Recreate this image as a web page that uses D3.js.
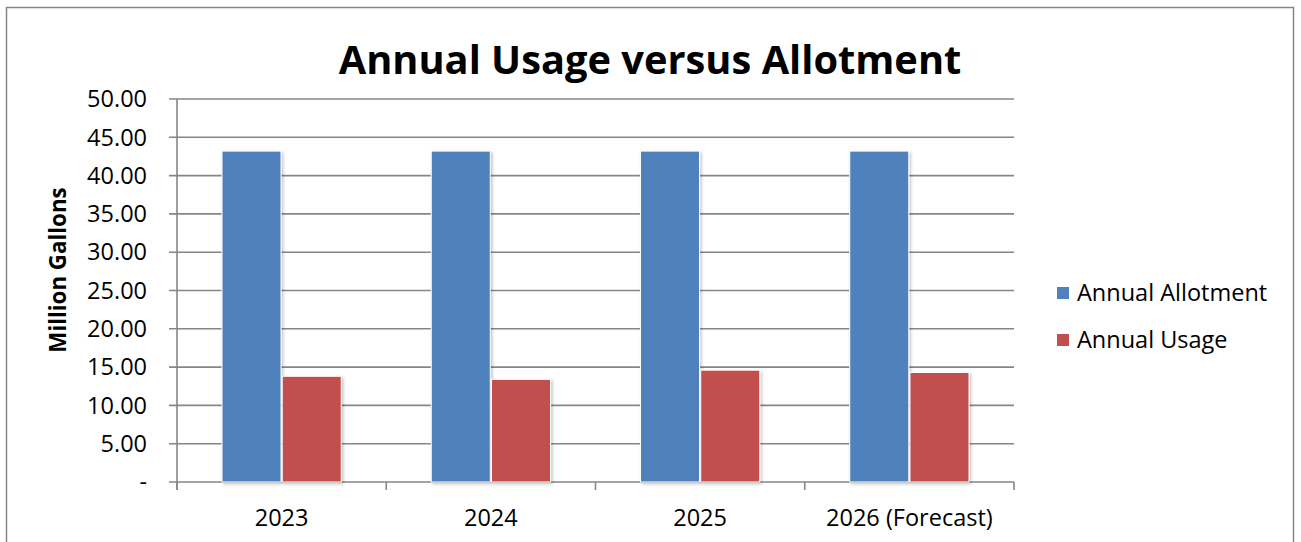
<!DOCTYPE html>
<html><head><meta charset="utf-8">
<script src="https://cdn.jsdelivr.net/npm/d3@7/dist/d3.min.js"></script>
<style>body{margin:0;background:#fff}svg{display:block}text{font-family:"Open Sans",Lato,sans-serif}</style>
</head><body><svg id="c" width="1301" height="542"></svg>
<script>
const categories = ["2023", "2024", "2025", "2026 (Forecast)"];
const seriesNames = ["Annual Allotment", "Annual Usage"];
const allotment = [43.2, 43.2, 43.2, 43.2];
const usage = [13.8, 13.4, 14.6, 14.3];
const yTicks = [0, 5, 10, 15, 20, 25, 30, 35, 40, 45, 50];
const colors = ["#4F81BD", "#C0504D"];

const svg = d3.select("#c");
const grid = "#868686";
svg.append("rect").attr("x",6.5).attr("y",7.5).attr("width",1287).attr("height",560)
  .attr("fill","#fff").attr("stroke",grid).attr("stroke-width",1.5);

const L=177, R=1014, T=99, B=482;
const y = d3.scaleLinear().domain([0,50]).range([B,T]);
const x0 = d3.scaleBand().domain(categories).range([L,R]).paddingInner(0.43).paddingOuter(0.215);
const x1 = d3.scaleBand().domain(seriesNames).range([0,x0.bandwidth()]).paddingInner(0.02);

const defs = svg.append("defs");
const f = defs.append("filter").attr("id","sh").attr("x","-10%").attr("y","-10%").attr("width","130%").attr("height","130%");
f.append("feDropShadow").attr("dx",1.5).attr("dy",1.5).attr("stdDeviation",1.5).attr("flood-color","#000").attr("flood-opacity",0.25);

// gridlines
svg.append("g").selectAll("line").data(yTicks).join("line")
  .attr("x1",169).attr("x2",R).attr("y1",d=>y(d)).attr("y2",d=>y(d))
  .attr("stroke",grid).attr("stroke-width",1.6);
// y axis line
svg.append("line").attr("x1",L).attr("x2",L).attr("y1",T).attr("y2",B+8).attr("stroke",grid).attr("stroke-width",1.6);
// x ticks
const bounds = categories.map((c,i)=>L + i*(R-L)/categories.length).concat([R]);
svg.append("g").selectAll("line").data(bounds).join("line")
  .attr("x1",d=>d).attr("x2",d=>d).attr("y1",B).attr("y2",B+8).attr("stroke",grid).attr("stroke-width",1.6);

// y labels
svg.append("g").selectAll("text").data(yTicks).join("text")
  .attr("x",147).attr("y",d=>y(d)).attr("dy","0.35em").attr("text-anchor","end")
  .attr("font-size",23.5).attr("fill","#000")
  .text(d=>d===0?"-":d.toFixed(2));

// bars
const data = categories.map((c,i)=>({c, vals:[allotment[i], usage[i]]}));
const g = svg.append("g").selectAll("g").data(data).join("g").attr("transform",d=>`translate(${x0(d.c)},0)`);
g.selectAll("rect").data(d=>d.vals.map((v,j)=>({v,s:seriesNames[j],j}))).join("rect")
  .attr("x",d=>x1(d.s)).attr("width",x1.bandwidth())
  .attr("y",d=>y(d.v)).attr("height",d=>B-y(d.v))
  .attr("fill",d=>colors[d.j]).attr("stroke","#fff").attr("stroke-width",1).attr("filter","url(#sh)");

// x labels
svg.append("g").selectAll("text").data(categories).join("text")
  .attr("x",d=>x0(d)+x0.bandwidth()/2).attr("y",526).attr("text-anchor","middle")
  .attr("font-size",23.5).attr("fill","#000").text(d=>d);

// title
svg.append("text").attr("x",650).attr("y",74).attr("text-anchor","middle")
  .attr("font-size",39.8).attr("font-weight","bold").attr("fill","#000").text("Annual Usage versus Allotment");

// y title
svg.append("text").attr("transform","translate(66,270) rotate(-90)").attr("text-anchor","middle")
  .attr("font-size",22.3).attr("font-weight","bold").attr("fill","#000").text("Million Gallons");

// legend
const lg = svg.append("g").selectAll("g").data(seriesNames).join("g")
  .attr("transform",(d,i)=>`translate(1057,${293+i*47})`);
lg.append("rect").attr("x",0).attr("y",-6).attr("width",12).attr("height",12).attr("fill",(d,i)=>colors[i]);
lg.append("text").attr("x",20).attr("y",0).attr("dy","0.35em").attr("font-size",23.5).attr("fill","#000").text(d=>d);
</script></body></html>
